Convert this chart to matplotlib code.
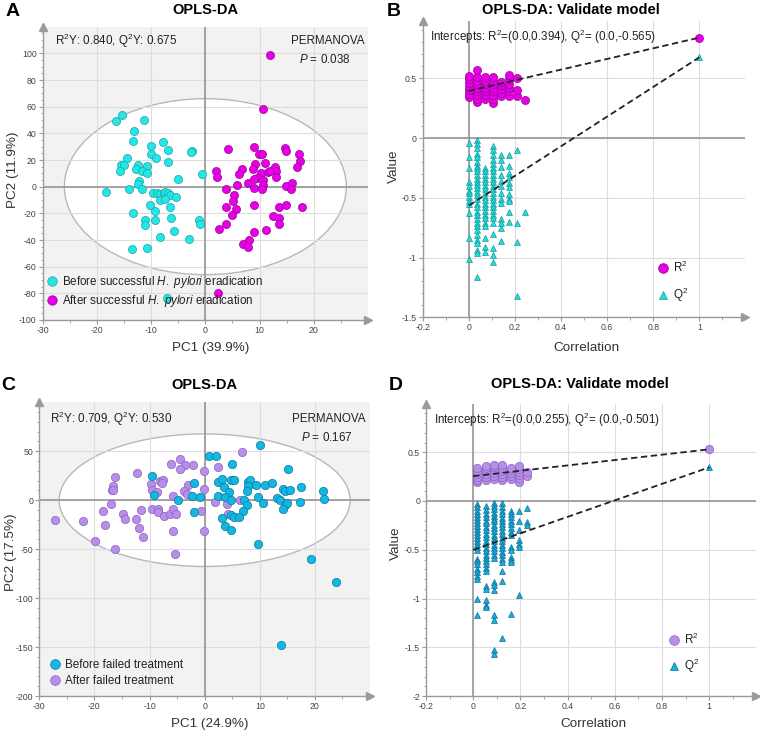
import matplotlib
matplotlib.use('Agg')
import matplotlib.pyplot as plt
from matplotlib.patches import Ellipse
from matplotlib.lines import Line2D
from matplotlib.ticker import MultipleLocator, FuncFormatter

plt.rcParams['font.family'] = ['Liberation Sans', 'DejaVu Sans']
plt.rcParams['mathtext.fontset'] = 'custom'
plt.rcParams['mathtext.rm'] = 'Liberation Sans'
plt.rcParams['mathtext.it'] = 'Liberation Sans:italic'
plt.rcParams['mathtext.bf'] = 'Liberation Sans:bold'
plt.rcParams['axes.unicode_minus'] = False

# ---------------- Panel A data ----------------
a_before_x = [-15.3, -16.4, -11.3, -13.1, -13.4, -10.0, -7.9, -6.8, -10.0, -9.1,
              -2.4, -2.6, -14.4, -15.6, -15.0, -12.5, -15.8, -12.8, -10.7, -11.6,
              -10.7, -6.9, -5.1, -0.6, -18.3, -14.1, -12.3, -12.4, -11.6, -9.6,
              -9.0, -8.3, -7.7, -7.4, -6.9, -6.5, -5.5, -8.3, -7.4, -6.5,
              -10.2, -9.3, -13.4, -11.1, -11.2, -9.3, -6.3, -1.2, -1.0, -5.8,
              -8.3, -3.1, -13.6, -10.7, -7.0]
a_before_y = [53.6, 49.1, 49.8, 42.1, 34.6, 30.8, 33.3, 27.8, 24.8, 21.8,
              27.1, 25.8, 21.6, 16.6, 16.1, 16.1, 11.9, 13.6, 15.6, 11.6,
              10.4, 18.6, 5.6, 9.4, -3.9, -1.4, 4.1, 1.9, -1.4, -4.6,
              -4.6, -5.6, -4.6, -3.9, -5.1, -6.4, -7.6, -10.1, -8.9, -15.1,
              -13.4, -18.4, -20.1, -25.1, -29.1, -25.3, -23.6, -25.1, -28.1, -33.6,
              -37.8, -39.3, -46.8, -46.1, -83.8]
a_after_x = [12.0, 10.7, 4.1, 8.9, 9.9, 10.4, 14.6, 14.8, 17.2, 17.4,
             16.9, 9.2, 11.0, 8.7, 6.7, 6.2, 1.9, 2.2, 10.2, 11.6,
             12.8, 13.0, 11.9, 13.0, 9.6, 10.6, 7.9, 9.0, 5.8, 10.6,
             10.4, 9.0, 14.8, 16.0, 15.8, 3.9, 5.3, 5.1, 3.8, 5.6,
             5.0, 9.0, 13.5, 14.9, 17.8, 12.5, 13.5, 13.5, 3.9, 2.5,
             9.0, 11.1, 8.1, 7.0, 7.8, 2.3]
a_after_y = [98.5, 58.6, 28.1, 29.6, 24.6, 24.3, 29.1, 26.8, 24.3, 19.4,
             14.4, 16.9, 17.4, 13.4, 13.1, 9.6, 11.6, 7.1, 10.4, 11.1,
             14.4, 11.9, 11.6, 7.1, 6.6, 4.9, 2.9, 5.4, 1.1, 1.6,
             -1.4, -0.9, 0.6, 2.9, -1.4, -1.9, -6.4, -10.6, -15.4, -16.6,
             -21.3, -14.1, -15.1, -14.1, -15.1, -22.3, -23.6, -28.1, -28.1, -31.6,
             -34.3, -32.8, -39.8, -43.1, -45.1, -80.0]

# ---------------- Panel B data ----------------
b_corr = [0.0, 0.035, 0.07, 0.105, 0.14, 0.175, 0.21, 0.245]
b_r2 = [
    [0.34, 0.37, 0.40, 0.43, 0.46, 0.49, 0.52],
    [0.30, 0.33, 0.36, 0.39, 0.42, 0.45, 0.48, 0.51, 0.57],
    [0.33, 0.36, 0.39, 0.42, 0.45, 0.48, 0.51],
    [0.29, 0.33, 0.36, 0.39, 0.42, 0.45, 0.48, 0.51],
    [0.35, 0.38, 0.41, 0.44, 0.47],
    [0.35, 0.39, 0.42, 0.45, 0.49, 0.53],
    [0.35, 0.40, 0.50],
    [0.32],
]
b_q2 = [
    [-0.04, -0.16, -0.25, -0.37, -0.40, -0.44, -0.46, -0.49, -0.53, -0.55, -0.63, -0.84, -1.01],
    [-0.02, -0.05, -0.08, -0.13, -0.16, -0.20, -0.23, -0.25, -0.28, -0.31, -0.34, -0.37, -0.39,
     -0.42, -0.45, -0.48, -0.51, -0.55, -0.58, -0.62, -0.64, -0.68, -0.71, -0.74, -0.77, -0.81,
     -0.85, -0.88, -0.94, -0.96, -1.16],
    [-0.25, -0.28, -0.31, -0.34, -0.37, -0.40, -0.43, -0.46, -0.49, -0.52, -0.55, -0.58, -0.61,
     -0.64, -0.67, -0.71, -0.74, -0.84, -0.91, -0.95],
    [-0.07, -0.10, -0.14, -0.18, -0.22, -0.25, -0.28, -0.31, -0.34, -0.37, -0.40, -0.43, -0.46,
     -0.49, -0.52, -0.55, -0.58, -0.61, -0.64, -0.67, -0.71, -0.80, -0.92, -0.98, -1.04],
    [-0.14, -0.18, -0.24, -0.31, -0.36, -0.40, -0.46, -0.51, -0.54, -0.68, -0.71, -0.75, -0.86],
    [-0.14, -0.23, -0.29, -0.33, -0.38, -0.41, -0.47, -0.51, -0.53, -0.62, -0.70],
    [-0.10, -0.71, -0.87, -1.32],
    [-0.62],
]
b_r2_orig = 0.840
b_q2_orig = 0.675
b_r2_int = 0.394
b_q2_int = -0.565

# ---------------- Panel C data ----------------
c_before_x = [10.1, 0.7, 2.0, 5.0, 15.2, 2.5, 3.2, 4.8, 5.3, 7.9,
              8.3, 7.8, 9.4, 10.9, 12.3, 3.5, 4.4, 14.2, 14.6, 15.5,
              17.4, 21.4, 7.6, 2.5, 3.7, 4.7, 7.1, 7.6, 9.7, 10.6,
              13.2, 13.7, 14.5, 15.0, 14.3, 21.6, 6.9, 3.2, 4.8, 5.3,
              6.2, 3.7, 4.7, 9.6, 17.3, 19.3, 23.8, 13.9, -9.6, -1.9,
              -9.2, -4.9, -2.3, -0.9, -2.0]
c_before_y = [56.8, 45.2, 45.2, 37.4, 31.6, 18.7, 21.4, 21.1, 20.4, 18.7,
              20.4, 14.6, 15.3, 15.3, 17.7, 13.6, 8.5, 11.2, 9.5, 10.2,
              13.9, 9.9, 9.2, 4.4, 3.4, 0.0, 0.0, -5.1, 3.4, -2.4,
              2.0, 0.0, -5.1, -3.1, -8.5, 1.7, -11.2, -17.7, -15.3, -17.0,
              -17.0, -26.2, -30.6, -45.2, -1.7, -60.2, -84.0, -148.0, 24.5, 17.7,
              5.8, 0.0, 4.4, 3.4, -11.9]
c_after_x = [-4.5, -6.1, -3.5, -2.2, -4.4, -0.1, -16.2, -12.3, -16.7, -16.8,
             -16.6, -9.7, -8.1, -7.5, -7.8, -9.6, -8.7, -3.0, -3.8, -3.2,
             -0.1, -5.8, -17.0, -18.4, -14.8, -14.4, -11.5, -9.5, -8.5, -8.4,
             -7.4, -6.3, -5.8, -5.2, -0.7, -27.2, -22.1, -18.0, -12.4, -12.0,
             -11.1, -5.8, -0.1, -19.9, -16.3, -5.4, 6.8, 2.5, 1.8, 4.1,
             6.4, 4.2]
c_after_y = [41.8, 37.4, 36.4, 35.7, 32.0, 29.6, 23.8, 28.2, 15.0, 10.9,
             10.2, 16.7, 19.7, 21.1, 18.0, 10.2, 8.5, 16.0, 9.5, 6.8,
             11.2, 4.8, -3.4, -11.2, -13.6, -19.7, -10.2, -8.8, -8.5, -11.9,
             -16.3, -14.3, -8.8, -14.3, -11.2, -20.7, -21.4, -25.2, -19.7, -27.9,
             -37.4, -31.0, -31.6, -41.5, -50.3, -54.8, 49.3, 34.0, -1.7, -3.4,
             0.0, -13.6]

# ---------------- Panel D data ----------------
d_corr = [0.0175, 0.053, 0.088, 0.123, 0.159, 0.194, 0.229]
d_r2 = [
    [0.19, 0.22, 0.25, 0.28, 0.31, 0.34],
    [0.22, 0.25, 0.28, 0.31, 0.34, 0.36],
    [0.23, 0.26, 0.29, 0.32, 0.35, 0.37],
    [0.22, 0.25, 0.28, 0.31, 0.34, 0.37],
    [0.23, 0.26, 0.29, 0.32, 0.34],
    [0.20, 0.24, 0.27, 0.30, 0.33, 0.36],
    [0.26, 0.30],
]
d_q2 = [
    [-0.03, -0.06, -0.10, -0.13, -0.16, -0.19, -0.23, -0.26, -0.29, -0.32, -0.35, -0.38, -0.41,
     -0.44, -0.47, -0.50, -0.59, -0.62, -0.65, -0.70, -0.73, -0.77, -0.80, -1.00, -1.17],
    [-0.05, -0.09, -0.13, -0.16, -0.20, -0.23, -0.27, -0.30, -0.34, -0.37, -0.41, -0.44, -0.48,
     -0.51, -0.55, -0.58, -0.62, -0.65, -0.69, -0.72, -0.87, -0.90, -1.02, -1.07, -1.09],
    [-0.02, -0.05, -0.08, -0.12, -0.15, -0.18, -0.21, -0.25, -0.28, -0.31, -0.35, -0.38, -0.41,
     -0.45, -0.48, -0.51, -0.55, -0.58, -0.83, -0.86, -0.91, -1.17, -1.22, -1.53, -1.57],
    [-0.02, -0.06, -0.10, -0.13, -0.17, -0.20, -0.24, -0.27, -0.31, -0.34, -0.38, -0.41, -0.45,
     -0.48, -0.52, -0.55, -0.59, -0.63, -0.72, -0.82, -1.40],
    [-0.10, -0.13, -0.16, -0.20, -0.24, -0.28, -0.32, -0.35, -0.47, -0.50, -0.57, -0.60, -0.63, -1.16],
    [-0.10, -0.20, -0.30, -0.40, -0.44, -0.47, -0.96],
    [-0.07, -0.22, -0.25],
]
d_r2_orig = 0.53
d_q2_orig = 0.345
d_r2_int = 0.255
d_q2_int = -0.501

# ---------------- styling helpers ----------------
AX_COL = '#9a9a9a'
W, H = 760, 736


def px_axes(fig, left, right, top, bottom):
    return fig.add_axes([left / W, 1 - bottom / H, (right - left) / W, (bottom - top) / H])


def style(ax, xlim, ylim, xticks, yticks, xminor, yminor, bg):
    ax.set_xlim(*xlim)
    ax.set_ylim(*ylim)
    ax.set_facecolor(bg)
    for s in ['top', 'right']:
        ax.spines[s].set_visible(False)
    for s in ['left', 'bottom']:
        ax.spines[s].set_color(AX_COL)
        ax.spines[s].set_linewidth(1.0)
    ax.set_xticks(xticks)
    ax.set_yticks(yticks)
    ax.xaxis.set_minor_locator(MultipleLocator(xminor))
    ax.yaxis.set_minor_locator(MultipleLocator(yminor))
    fmt = FuncFormatter(lambda v, p: '%g' % round(v, 6))
    ax.xaxis.set_major_formatter(fmt)
    ax.yaxis.set_major_formatter(fmt)
    ax.tick_params(which='major', length=2.8, width=0.8, color=AX_COL,
                   labelsize=6.3, labelcolor='#444444', pad=1.5)
    ax.tick_params(which='minor', length=1.8, width=0.6, color=AX_COL)
    ax.grid(True, which='major', color='#dddddd', lw=0.8)
    ax.set_axisbelow(True)
    ax.axhline(0, color='#8f8f8f', lw=1.1, zorder=1)
    ax.axvline(0, color='#8f8f8f', lw=1.1, zorder=1)
    ax.plot([1], [0], marker='>', ms=6, color=AX_COL, transform=ax.transAxes,
            clip_on=False, zorder=5)
    ax.plot([0], [1], marker='^', ms=6, color=AX_COL, transform=ax.transAxes,
            clip_on=False, zorder=5)


def labels(ax, xl, yl, xpos, ypos):
    ax.set_xlabel(xl, fontsize=9.7, color='#333333', va='center')
    ax.set_ylabel(yl, fontsize=9.7, color='#333333', va='center')
    ax.xaxis.set_label_coords(*xpos)
    ax.yaxis.set_label_coords(*ypos)


fig = plt.figure(figsize=(7.6, 7.36), dpi=100)

# ================= Panel A =================
axA = px_axes(fig, 42.7, 368.0, 26.7, 320.0)
style(axA, (-30, 30), (-100, 120), range(-30, 21, 10), range(-100, 101, 20), 5, 5, '#f2f2f2')
axA.add_patch(Ellipse((0, 0), 52.0, 132.0, facecolor='white', edgecolor='#b8b8b8', lw=1.0, zorder=0.3))
axA.scatter(a_before_x, a_before_y, s=34, c='#25e6e6', edgecolors='#17a5a5', linewidths=0.5, zorder=3)
axA.scatter(a_after_x, a_after_y, s=34, c='#e600e6', edgecolors='#9c009c', linewidths=0.5, zorder=3)
labels(axA, 'PC1 (39.9%)', 'PC2 (11.9%)', (0.516, -0.094), (-0.090, 0.511))
axA.text(0.038, 0.952, 'R$^2$Y: 0.840, Q$^2$Y: 0.675', transform=axA.transAxes,
         fontsize=8.4, color='#222222', ha='left', va='center')
axA.text(0.988, 0.952, 'PERMANOVA', transform=axA.transAxes, fontsize=8.4,
         color='#222222', ha='right', va='center')
axA.text(0.868, 0.889, '$\\it{P}$ = 0.038', transform=axA.transAxes, fontsize=8.4,
         color='#222222', ha='center', va='center')
legA = [Line2D([], [], ls='none', marker='o', ms=6.8, mfc='#25e6e6', mec='#17a5a5', mew=0.5),
        Line2D([], [], ls='none', marker='o', ms=6.8, mfc='#e600e6', mec='#9c009c', mew=0.5)]
axA.legend(legA, ['Before successful $\\it{H.\\ pylori}$ eradication',
                  'After successful $\\it{H.\\ pylori}$ eradication'],
           loc='lower left', bbox_to_anchor=(0.013, 0.036), frameon=False, fontsize=8.4,
           handlelength=0.8, handletextpad=0.5, labelspacing=0.32, borderpad=0,
           borderaxespad=0, labelcolor='#222222')

# ================= Panel B =================
axB = px_axes(fig, 422.7, 745.4, 20.9, 317.3)
style(axB, (-0.2, 1.2), (-1.5, 0.98), [-0.2, 0, 0.2, 0.4, 0.6, 0.8, 1.0],
      [-1.5, -1, -0.5, 0, 0.5], 0.1, 0.1, 'white')
for xv, col in zip(b_corr, b_q2):
    axB.scatter([xv] * len(col), col, s=18, marker='^', c='#28dcdc', edgecolors='#139a9a',
                linewidths=0.5, zorder=3)
for xv, col in zip(b_corr, b_r2):
    axB.scatter([xv] * len(col), col, s=34, marker='o', c='#e600e6', edgecolors='#9c009c',
                linewidths=0.5, zorder=3)
axB.scatter([1.0], [b_q2_orig], s=18, marker='^', c='#28dcdc', edgecolors='#139a9a', linewidths=0.5, zorder=3)
axB.scatter([1.0], [b_r2_orig], s=34, marker='o', c='#e600e6', edgecolors='#9c009c', linewidths=0.5, zorder=3)
axB.plot([0, 1], [b_r2_int, b_r2_orig], ls=(0, (3.5, 2)), color='#222222', lw=1.3, zorder=4)
axB.plot([0, 1], [b_q2_int, b_q2_orig], ls=(0, (3.5, 2)), color='#222222', lw=1.3, zorder=4)
labels(axB, 'Correlation', 'Value', (0.507, -0.1025), (-0.090, 0.508))
axB.text(0.023, 0.946, 'Intercepts: R$^2$=(0.0,0.394), Q$^2$= (0.0,-0.565)',
         transform=axB.transAxes, fontsize=8.4, color='#222222', ha='left', va='center')
legB = [Line2D([], [], ls='none', marker='o', ms=7.0, mfc='#e600e6', mec='#9c009c', mew=0.5),
        Line2D([], [], ls='none', marker='^', ms=6.0, mfc='#28dcdc', mec='#139a9a', mew=0.5)]
axB.legend(legB, ['R$^2$', 'Q$^2$'], loc='lower left', bbox_to_anchor=(0.729, 0.046),
           frameon=False, fontsize=8.4, handlelength=0.8, handletextpad=0.5,
           labelspacing=0.9, borderpad=0, borderaxespad=0, labelcolor='#222222')

# ================= Panel C =================
axC = px_axes(fig, 39.3, 370.0, 402.3, 696.0)
style(axC, (-30, 30), (-200, 100), range(-30, 21, 10), range(-200, 51, 50), 5, 10, '#f2f2f2')
axC.add_patch(Ellipse((0, 0), 52.8, 135.4, facecolor='white', edgecolor='#b8b8b8', lw=1.0, zorder=0.3))
axC.scatter(c_after_x, c_after_y, s=36, c='#b88fe8', edgecolors='#8a63c2', linewidths=0.5, zorder=3)
axC.scatter(c_before_x, c_before_y, s=36, c='#14b6e2', edgecolors='#0a7aa0', linewidths=0.5, zorder=3)
labels(axC, 'PC1 (24.9%)', 'PC2 (17.5%)', (0.516, -0.0953), (-0.085, 0.491))
axC.text(0.032, 0.942, 'R$^2$Y: 0.709, Q$^2$Y: 0.530', transform=axC.transAxes,
         fontsize=8.4, color='#222222', ha='left', va='center')
axC.text(0.985, 0.942, 'PERMANOVA', transform=axC.transAxes, fontsize=8.4,
         color='#222222', ha='right', va='center')
axC.text(0.869, 0.881, '$\\it{P}$ = 0.167', transform=axC.transAxes, fontsize=8.4,
         color='#222222', ha='center', va='center')
legC = [Line2D([], [], ls='none', marker='o', ms=7.0, mfc='#14b6e2', mec='#0a7aa0', mew=0.5),
        Line2D([], [], ls='none', marker='o', ms=7.0, mfc='#b88fe8', mec='#8a63c2', mew=0.5)]
axC.legend(legC, ['Before failed treatment', 'After failed treatment'],
           loc='lower left', bbox_to_anchor=(0.033, 0.032), frameon=False, fontsize=8.4,
           handlelength=0.8, handletextpad=0.5, labelspacing=0.32, borderpad=0,
           borderaxespad=0, labelcolor='#222222')

# ================= Panel D =================
axD = px_axes(fig, 426.0, 756.4, 403.5, 696.0)
style(axD, (-0.2, 1.2), (-2.0, 1.0), [-0.2, 0, 0.2, 0.4, 0.6, 0.8, 1.0],
      [-2, -1.5, -1, -0.5, 0, 0.5], 0.1, 0.1, 'white')
for xv, col in zip(d_corr, d_q2):
    axD.scatter([xv] * len(col), col, s=18, marker='^', c='#19aee0', edgecolors='#0b7099',
                linewidths=0.5, zorder=3)
for xv, col in zip(d_corr, d_r2):
    axD.scatter([xv] * len(col), col, s=36, marker='o', c='#b88fe8', edgecolors='#8a63c2',
                linewidths=0.5, zorder=3)
axD.scatter([1.0], [d_q2_orig], s=18, marker='^', c='#19aee0', edgecolors='#0b7099', linewidths=0.5, zorder=3)
axD.scatter([1.0], [d_r2_orig], s=36, marker='o', c='#b88fe8', edgecolors='#8a63c2', linewidths=0.5, zorder=3)
axD.plot([0, 1], [d_r2_int, d_r2_orig], ls=(0, (3.5, 2)), color='#222222', lw=1.3, zorder=4)
axD.plot([0, 1], [d_q2_int, d_q2_orig], ls=(0, (3.5, 2)), color='#222222', lw=1.3, zorder=4)
labels(axD, 'Correlation', 'Value', (0.506, -0.0957), (-0.092, 0.523))
axD.text(0.024, 0.943, 'Intercepts: R$^2$=(0.0,0.255), Q$^2$= (0.0,-0.501)',
         transform=axD.transAxes, fontsize=8.4, color='#222222', ha='left', va='center')
legD = [Line2D([], [], ls='none', marker='o', ms=7.0, mfc='#b88fe8', mec='#8a63c2', mew=0.5),
        Line2D([], [], ls='none', marker='^', ms=6.0, mfc='#19aee0', mec='#0b7099', mew=0.5)]
axD.legend(legD, ['R$^2$', 'Q$^2$'], loc='lower left', bbox_to_anchor=(0.736, 0.071),
           frameon=False, fontsize=8.4, handlelength=0.8, handletextpad=0.5,
           labelspacing=0.85, borderpad=0, borderaxespad=0, labelcolor='#222222')

# ================= titles and panel letters =================
fig.text(205.6 / W, 1 - 10 / H, 'OPLS-DA', ha='center', va='center', fontsize=10.5, weight='bold')
fig.text(570.7 / W, 1 - 10 / H, 'OPLS-DA: Validate model', ha='center', va='center', fontsize=10.5, weight='bold')
fig.text(204 / W, 1 - 385 / H, 'OPLS-DA', ha='center', va='center', fontsize=10.5, weight='bold')
fig.text(580 / W, 1 - 384 / H, 'OPLS-DA: Validate model', ha='center', va='center', fontsize=10.5, weight='bold')
fig.text(13 / W, 1 - 11 / H, 'A', ha='center', va='center', fontsize=14, weight='bold')
fig.text(394 / W, 1 - 11 / H, 'B', ha='center', va='center', fontsize=14, weight='bold')
fig.text(8 / W, 1 - 385 / H, 'C', ha='center', va='center', fontsize=14, weight='bold')
fig.text(396 / W, 1 - 385 / H, 'D', ha='center', va='center', fontsize=14, weight='bold')

fig.savefig('out.png', dpi=100)
